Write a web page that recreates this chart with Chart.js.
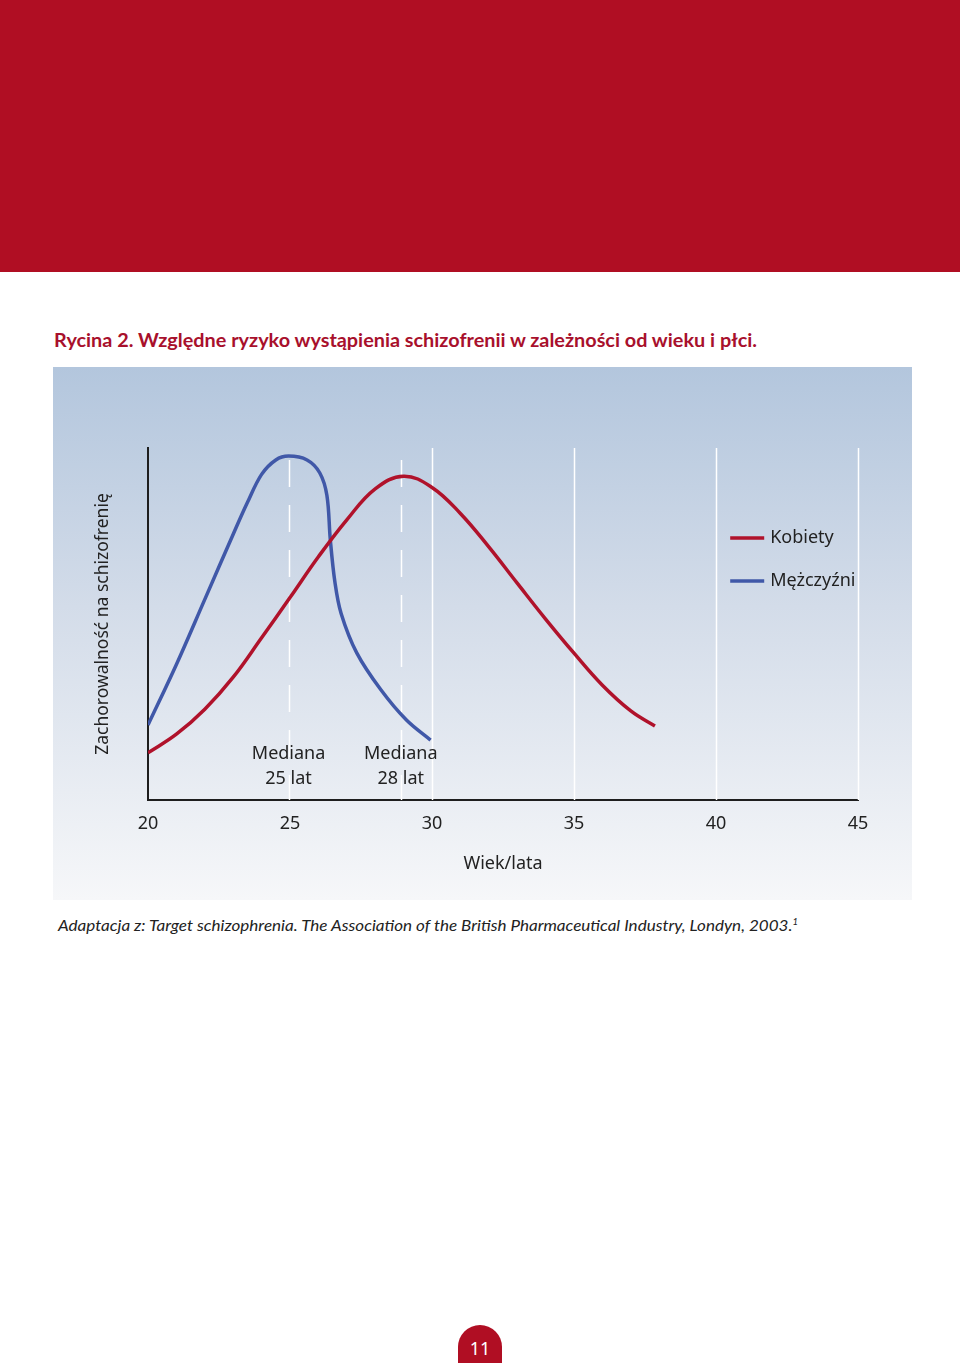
<!DOCTYPE html>
<html lang="pl">
<head>
<meta charset="utf-8">
<script src="https://cdn.jsdelivr.net/npm/chart.js@4.4.1/dist/chart.umd.min.js"></script>
<style>
  html, body { margin: 0; padding: 0; background: #fff; }
  body { width: 960px; height: 1363px; position: relative; overflow: hidden; font-family: 'Lato', 'Noto Sans', sans-serif; }
  #band { position: absolute; left: 0; top: 0; width: 960px; height: 272px; background: #b00e23; }
  #title { position: absolute; left: 54px; top: 329px; font-size: 18px; font-weight: bold; color: #a8102c; white-space: nowrap; transform-origin: left top; }
  #panel { position: absolute; left: 53px; top: 367px; width: 859px; height: 533px;
           background: linear-gradient(to bottom, #b3c6dd 0%, #d3dce9 45%, #f6f7f9 100%); }
  #panel canvas { display: block; }
  #caption { position: absolute; left: 58px; top: 915px; font-size: 16px; font-style: italic; color: #222; white-space: nowrap; transform-origin: left top; }
  #caption sup { font-size: 9px; }
  #page { position: absolute; left: 458px; top: 1325px; width: 44px; height: 38px; background: #b00e23; border-radius: 22px 22px 0 0;
          color: #fff; font-size: 18px; text-align: center; line-height: 46px; font-family: 'Noto Sans', sans-serif; }
</style>
</head>
<body>
<div id="band"></div>
<div id="title">Rycina 2. Względne ryzyko wystąpienia schizofrenii w zależności od wieku i płci.</div>
<div id="panel"><canvas id="chart" width="859" height="533"></canvas></div>
<div id="caption">Adaptacja z: Target schizophrenia. The Association of the British Pharmaceutical Industry, Londyn, 2003.<sup>1</sup></div>
<div id="page">11</div>
<script>
// Values (age in years, relative risk 0-100)
const agesK = [20, 21, 22, 23, 24, 25, 26, 27, 28, 29, 30, 31, 32, 33, 34, 35, 36, 37, 37.85];
const riskK = [13.4, 18.7, 25.8, 34.9, 46.1, 57.5, 69.1, 79.6, 88.4, 92.0, 88.8, 81.4, 71.9, 61.6, 51.4, 41.7, 32.6, 25.3, 21.0];

const agesM = [20, 21, 22, 23, 23.5, 24, 24.5, 24.95, 25.6, 26.05, 26.3, 26.42, 26.58, 26.8, 27.35, 28.2, 29.1, 29.95];
const riskM = [21.3, 38.5, 57.0, 75.5, 84.5, 92.5, 96.6, 97.7, 96.6, 92.9, 86.5, 73.9, 62.0, 53.0, 41.8, 31.3, 22.7, 17.0];

const xTicks = [20, 25, 30, 35, 40, 45];
const solidGrid = [30, 35, 40, 45];
const medianAges = [24.95, 28.9];
const medianLabels = [['Mediana', '25 lat'], ['Mediana', '28 lat']];
const seriesNames = ['Kobiety', 'Mężczyźni'];

const colors = {
    red: '#b0122b',
    blue: '#4058a8',
    text: '#222222',
    axis: '#1e1e1e'
};

function fitWidth(id, w) {
    const el = document.getElementById(id);
    const real = el.getBoundingClientRect().width;
    el.style.transform = `scaleX(${w / real})`;
}
fitWidth('title', 703);
fitWidth('caption', 740);

const chartFont = "'Noto Sans', sans-serif";

// white grid lines, median labels and legend
const decorPlugin = {
    id: 'decor',
    beforeDatasetsDraw(chart) {
        const { ctx, chartArea } = chart;
        const xs = chart.scales.x;
        ctx.save();
        ctx.strokeStyle = '#ffffff';
        ctx.lineWidth = 1.5;
        solidGrid.forEach(v => {
            const px = Math.round(xs.getPixelForValue(v)) + 0.5;
            ctx.beginPath();
            ctx.moveTo(px, chartArea.top);
            ctx.lineTo(px, chartArea.bottom);
            ctx.stroke();
        });
        ctx.setLineDash([27, 18]);
        medianAges.forEach(v => {
            const px = Math.round(xs.getPixelForValue(v)) + 0.5;
            ctx.beginPath();
            ctx.moveTo(px, chartArea.top + 12);
            ctx.lineTo(px, chartArea.bottom);
            ctx.stroke();
        });
        ctx.restore();
    },
    afterDatasetsDraw(chart) {
        const { ctx, chartArea } = chart;
        const xs = chart.scales.x;
        ctx.save();
        ctx.fillStyle = colors.text;
        ctx.font = "18px " + chartFont;
        ctx.textAlign = 'center';
        ctx.textBaseline = 'middle';
        medianAges.forEach((v, i) => {
            const px = xs.getPixelForValue(v);
            ctx.fillText(medianLabels[i][0], px, chartArea.bottom - 46);
            ctx.fillText(medianLabels[i][1], px, chartArea.bottom - 21);
        });

        // legend
        const lx = xs.getPixelForValue(40.5);
        [colors.red, colors.blue].forEach((c, i) => {
            const ly = chartArea.top + 90 + i * 43;
            ctx.strokeStyle = c;
            ctx.lineWidth = 3.5;
            ctx.beginPath();
            ctx.moveTo(lx, ly);
            ctx.lineTo(lx + 34, ly);
            ctx.stroke();
            ctx.textAlign = 'left';
            ctx.fillText(seriesNames[i], lx + 40, ly);
        });
        ctx.restore();
    }
};

const ctx = document.getElementById('chart').getContext('2d');
Chart.defaults.font.family = chartFont;
Chart.defaults.color = colors.text;

new Chart(ctx, {
    type: 'line',
    data: {
        datasets: [
            { label: seriesNames[0], data: agesK.map((a, i) => ({ x: a, y: riskK[i] })), borderColor: colors.red, tension: 0.4 },
            { label: seriesNames[1], data: agesM.map((a, i) => ({ x: a, y: riskM[i] })), borderColor: colors.blue, tension: 0.35 }
        ]
    },
    options: {
        responsive: false,
        animation: false,
        devicePixelRatio: 1,
        layout: { padding: { left: 40, top: 81, right: 54, bottom: 25 } },
        elements: {
            line: { borderWidth: 3.5, fill: false, borderCapStyle: 'butt', capBezierPoints: false },
            point: { radius: 0 }
        },
        plugins: {
            legend: { display: false },
            tooltip: { enabled: false }
        },
        scales: {
            x: {
                type: 'linear',
                min: 20,
                max: 45,
                afterBuildTicks: s => { s.ticks = xTicks.map(v => ({ value: v })); },
                afterFit: s => { s.height = 75; },
                grid: { display: false, drawTicks: false },
                border: { display: true, color: colors.axis, width: 2 },
                ticks: { padding: 13, font: { size: 18 }, color: colors.text },
                title: { display: true, text: 'Wiek/lata', font: { size: 18 }, color: colors.text, padding: 0 }
            },
            y: {
                min: 0,
                max: 100,
                afterFit: s => { s.width = 55; },
                grid: { display: false, drawTicks: false },
                border: { display: true, color: colors.axis, width: 2 },
                ticks: { display: false },
                title: { display: true, text: 'Zachorowalność na schizofrenię', font: { size: 17.5 }, color: colors.text, padding: 0 }
            }
        }
    },
    plugins: [decorPlugin]
});
</script>
</body>
</html>
